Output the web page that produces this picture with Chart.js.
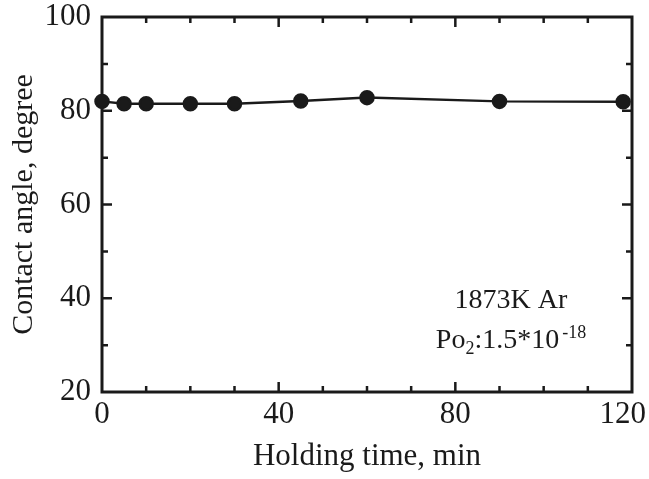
<!DOCTYPE html>
<html><head><meta charset="utf-8">
<script src="https://cdn.jsdelivr.net/npm/chart.js@4"></script>
<style>html,body{margin:0;padding:0;background:#fff}#wrap{width:649px;height:479px}</style>
</head><body><div id="wrap"><canvas id="c" width="649" height="479"></canvas></div>
<script>
const holdingTime = [0, 5, 10, 20, 30, 45, 60, 90, 118];
const contactAngle = [82.0, 81.5, 81.5, 81.5, 81.5, 82.1, 82.8, 82.0, 81.9];
const xTickValues = [0, 40, 80, 120];
const yTickValues = [20, 40, 60, 80, 100];
const noteLine1 = "1873K Ar";
const notePo = ["Po", "2", ":1.5*10", "-18"];

const INK = '#1a1a1a';
const FONT = '"Liberation Serif", "Times New Roman", serif';

const framePlugin = {
  id: 'frame',
  afterDatasetsDraw(chart) {
    const {ctx, chartArea: a, scales: {x, y}} = chart;
    ctx.save();
    ctx.strokeStyle = INK;
    ctx.lineWidth = 3;
    ctx.strokeRect(a.left, a.top, a.right - a.left, a.bottom - a.top);
    ctx.lineWidth = 2.5;
    ctx.beginPath();
    for (let v = 10; v < 120; v += 10) {
      const px = x.getPixelForValue(v);
      const len = v % 40 === 0 ? 10 : 6;
      ctx.moveTo(px, a.bottom); ctx.lineTo(px, a.bottom - len);
      ctx.moveTo(px, a.top); ctx.lineTo(px, a.top + len);
    }
    for (let v = 30; v < 100; v += 10) {
      const py = y.getPixelForValue(v);
      const len = v % 20 === 0 ? 10 : 6;
      ctx.moveTo(a.left, py); ctx.lineTo(a.left + len, py);
      ctx.moveTo(a.right, py); ctx.lineTo(a.right - len, py);
    }
    ctx.stroke();

    // x tick labels (kept inside the canvas like the original)
    ctx.fillStyle = INK;
    ctx.font = '31px ' + FONT;
    ctx.textBaseline = 'middle';
    ctx.textAlign = 'center';
    xTickValues.forEach(v => {
      const label = String(v);
      const w = ctx.measureText(label).width;
      let px = x.getPixelForValue(v);
      px = Math.min(px, chart.width - 3 - w / 2);
      ctx.fillText(label, px, a.bottom + 23);
    });

    // annotation
    ctx.textBaseline = 'alphabetic';
    ctx.textAlign = 'center';
    const big = '28px ' + FONT, small = '18px ' + FONT;
    ctx.font = big;
    const cx = x.getPixelForValue(92.6);
    ctx.fillText(noteLine1, cx, y.getPixelForValue(37.9));
    const base = y.getPixelForValue(29.4);
    ctx.textAlign = 'left';
    ctx.font = big; const w0 = ctx.measureText(notePo[0]).width;
    ctx.font = small; const w1 = ctx.measureText(notePo[1]).width;
    ctx.font = big; const w2 = ctx.measureText(notePo[2]).width;
    ctx.font = small; const w3 = ctx.measureText(notePo[3]).width;
    let sx = cx - (w0 + w1 + w2 + 3 + w3) / 2;
    ctx.font = big; ctx.fillText(notePo[0], sx, base); sx += w0;
    ctx.font = small; ctx.fillText(notePo[1], sx, base + 6); sx += w1;
    ctx.font = big; ctx.fillText(notePo[2], sx, base); sx += w2 + 3;
    ctx.font = small; ctx.fillText(notePo[3], sx, base - 10);
    ctx.restore();
  }
};

new Chart(document.getElementById('c'), {
  type: 'scatter',
  data: {
    datasets: [{
      data: holdingTime.map((t, i) => ({x: t, y: contactAngle[i]})),
      showLine: true,
      borderColor: INK,
      borderWidth: 2.5,
      backgroundColor: INK,
      pointBackgroundColor: INK,
      pointBorderColor: INK,
      pointRadius: 6.5,
      pointHoverRadius: 6.5,
      clip: false
    }]
  },
  options: {
    responsive: false,
    animation: false,
    devicePixelRatio: 1,
    layout: {padding: {top: 17, right: 17, left: 0, bottom: 0}},
    plugins: {legend: {display: false}, tooltip: {enabled: false}},
    scales: {
      x: {
        type: 'linear', min: 0, max: 120,
        afterBuildTicks: s => { s.ticks = xTickValues.map(v => ({value: v})); },
        grid: {display: false, drawTicks: false},
        border: {display: false},
        ticks: {display: false},
        title: {display: true, text: 'Holding time, min', color: INK, font: {family: FONT, size: 31}, padding: {top: 0, bottom: 4}},
        afterFit: s => { s.height = 87; s.paddingLeft = 0; s.paddingRight = 0; }
      },
      y: {
        type: 'linear', min: 20, max: 100,
        afterBuildTicks: s => { s.ticks = yTickValues.map(v => ({value: v})); },
        grid: {display: false, drawTicks: false},
        border: {display: false},
        ticks: {color: INK, font: {family: FONT, size: 31}, padding: 11},
        title: {display: true, text: 'Contact angle, degree', color: INK, font: {family: FONT, size: 30}, padding: {top: 6, bottom: 0}},
        afterFit: s => { s.width = 102; s.paddingTop = 0; s.paddingBottom = 0; }
      }
    }
  },
  plugins: [framePlugin]
});
</script></body></html>
